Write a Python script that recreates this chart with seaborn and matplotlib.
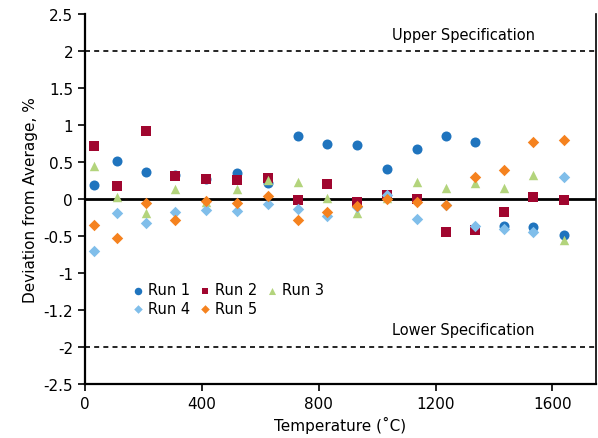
import matplotlib
matplotlib.use("Agg")
import matplotlib.pyplot as plt
import seaborn as sns
import pandas as pd

# temperatures (C) and deviation from average (%) per run
temps = [30, 110, 210, 310, 415, 520, 625, 730, 830, 930, 1035, 1135, 1235, 1335, 1435, 1535, 1640]
run1 = [0.19, 0.51, 0.36, 0.32, 0.27, 0.35, 0.21, 0.85, 0.74, 0.73, 0.40, 0.68, 0.85, 0.77, -0.36, -0.38, -0.49]
run2 = [0.72, 0.18, 0.92, 0.31, 0.27, 0.25, 0.29, -0.02, 0.20, -0.04, 0.05, 0.00, -0.45, -0.42, -0.17, 0.02, -0.01]
run3 = [0.45, 0.02, -0.19, 0.14, -0.04, 0.14, 0.26, 0.23, 0.01, -0.19, 0.01, 0.23, 0.15, 0.22, 0.15, 0.32, -0.55]
run4 = [-0.70, -0.19, -0.32, -0.18, -0.15, -0.16, -0.07, -0.13, -0.23, -0.11, 0.05, -0.27, -0.08, -0.36, -0.41, -0.44, 0.30]
run5 = [-0.35, -0.53, -0.05, -0.28, -0.03, -0.06, 0.04, -0.28, -0.18, -0.10, 0.00, -0.04, -0.08, 0.30, 0.39, 0.77, 0.80]

run_names = ["Run 1", "Run 2", "Run 3", "Run 4", "Run 5"]
yticks = [2.5, 2, 1.5, 1, 0.5, 0, -0.5, -1, -1.5, -2, -2.5]
ytick_labels = ["2.5", "2", "1.5", "1", "0.5", "0", "-0.5", "-1", "-1.2", "-2", "-2.5"]
xticks = [0, 400, 800, 1200, 1600]

colors = {"Run 1": "#1F74BE", "Run 2": "#A0062F", "Run 3": "#B3D47C",
          "Run 4": "#80BEEA", "Run 5": "#F5821F"}
markers = {"Run 1": "o", "Run 2": "s", "Run 3": "^", "Run 4": "D", "Run 5": "D"}
sizes = {"Run 1": 52, "Run 2": 42, "Run 3": 46, "Run 4": 34, "Run 5": 34}

sns.set_style("white")
plt.rcParams["font.family"] = ["DejaVu Sans"]
plt.rcParams["text.color"] = "black"
plt.rcParams["axes.labelcolor"] = "black"
plt.rcParams["xtick.color"] = "black"
plt.rcParams["ytick.color"] = "black"

fig = plt.figure(figsize=(5.98, 4.39), dpi=100)
ax = fig.add_axes([0.142, 0.123, 0.855, 0.843])

# zero line and spec limits
ax.axhline(0, color="black", lw=2, zorder=1)
ax.axhline(2, color="black", lw=1.2, ls=(0, (3, 2.5)), zorder=1)
ax.axhline(-2, color="black", lw=1.2, ls=(0, (3, 2.5)), zorder=1)

for name, vals in zip(run_names, [run1, run2, run3, run4, run5]):
    df = pd.DataFrame({"Temperature": temps, "Deviation": vals})
    sns.scatterplot(data=df, x="Temperature", y="Deviation", ax=ax,
                    color=colors[name], marker=markers[name], s=sizes[name],
                    linewidth=0, zorder=3, label=name)

ax.text(1295, 2.22, "Upper Specification", ha="center", va="center", fontsize=10.5)
ax.text(1295, -1.77, "Lower Specification", ha="center", va="center", fontsize=10.5)

ax.set_xlim(0, 1750)
ax.set_ylim(-2.5, 2.5)
ax.set_xticks(xticks)
ax.set_yticks(yticks)
ax.set_yticklabels(ytick_labels)
ax.tick_params(axis="both", direction="out", length=5, width=1.2, labelsize=11,
               color="black", labelcolor="black", left=True, bottom=True)
ax.set_xlabel("Temperature (˚C)", fontsize=11)
ax.set_ylabel("Deviation from Average, %", fontsize=11)

for side in ["left", "bottom"]:
    ax.spines[side].set_color("black")
    ax.spines[side].set_linewidth(1.6)
ax.spines["right"].set_color("black")
ax.spines["right"].set_linewidth(1.2)
ax.spines["top"].set_visible(False)

# row-major ordering for the legend
h, l = ax.get_legend_handles_labels()
order = [0, 3, 1, 4, 2]
ax.legend([h[i] for i in order], [l[i] for i in order], ncol=3, frameon=False,
          loc="upper left", bbox_to_anchor=(0.055, 0.31), fontsize=10.5,
          handletextpad=-0.1, handlelength=1.6, columnspacing=0.2,
          labelspacing=0.25, markerscale=0.75)

fig.savefig("out.png", dpi=100)
